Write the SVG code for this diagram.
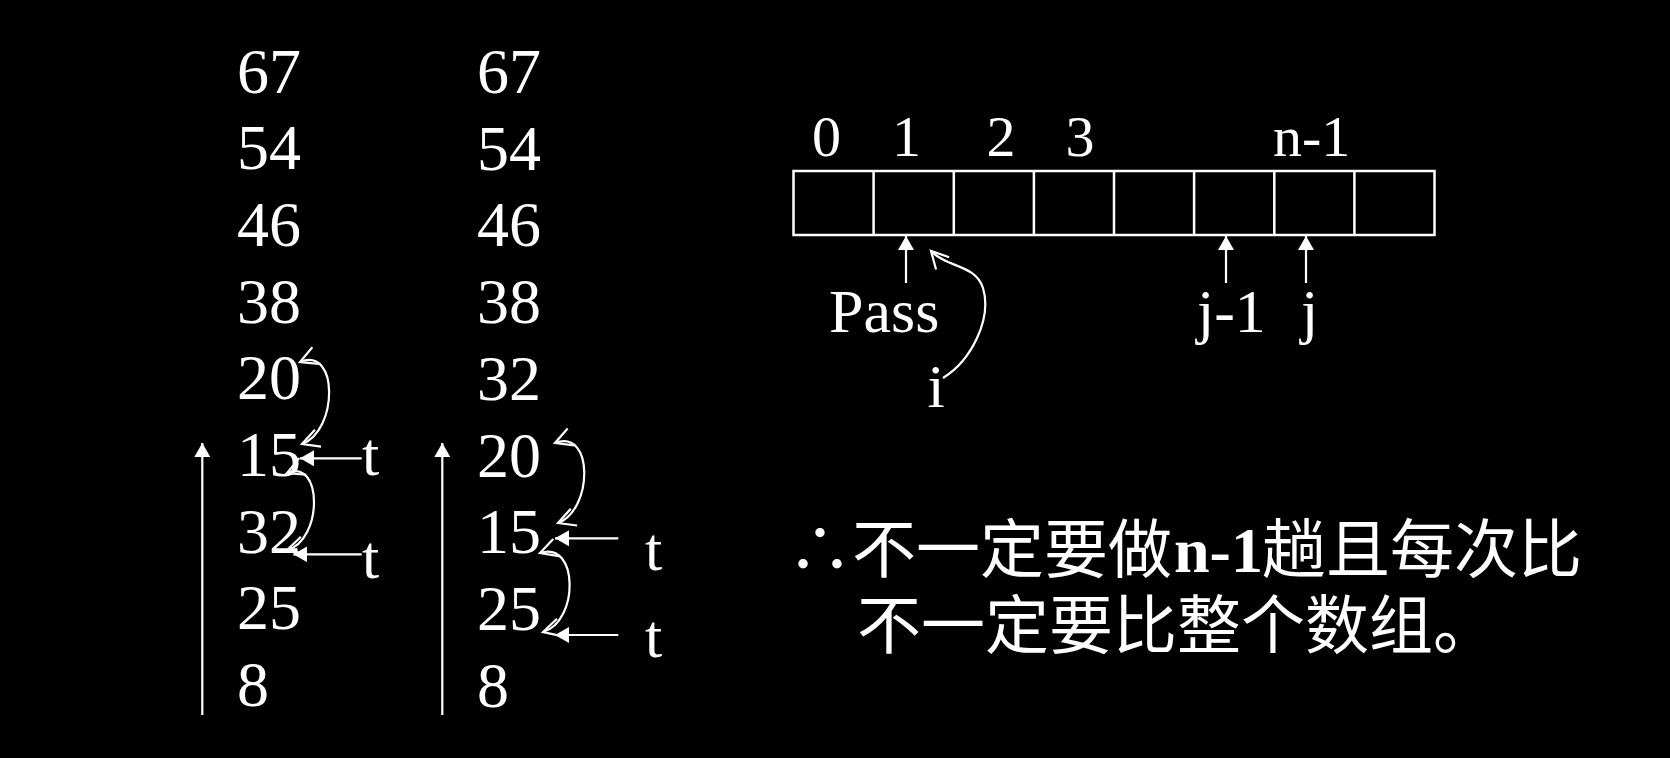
<svg xmlns="http://www.w3.org/2000/svg" width="1670" height="758" viewBox="0 0 1670 758">
<style>
.num{font-family:"Liberation Serif","Times New Roman",serif;font-size:64px;fill:#fff}
.lbl{font-family:"Liberation Serif","Times New Roman",serif;font-size:62px;fill:#fff}
.idx{font-family:"Liberation Serif","Times New Roman",serif;font-size:58px;fill:#fff}
.cjk{font-family:"Noto Sans CJK SC",sans-serif;font-size:64px;fill:#fff}
.bold{font-family:"Liberation Serif","Times New Roman",serif;font-weight:bold}
.ln{stroke:#fff;stroke-width:2.2;fill:none}
.cell{stroke:#fff;stroke-width:2.5;fill:none}
</style>
<defs>
<marker id="fill" markerUnits="userSpaceOnUse" markerWidth="15" markerHeight="16" refX="14" refY="8" orient="auto" viewBox="0 0 15 16">
<path d="M0,0 L14,8 L0,16 z" fill="#fff"/>
</marker>
<marker id="open" markerUnits="userSpaceOnUse" markerWidth="22" markerHeight="22" refX="18" refY="11" orient="auto-start-reverse" viewBox="0 0 22 22">
<path d="M1,2 L18,11 L1,20" fill="none" stroke="#fff" stroke-width="2.2"/>
</marker>
</defs>
<rect width="1670" height="758" fill="#000"/>

<g id="column1">
<text class="num" x="237" y="92.5">67</text>
<text class="num" x="237" y="169.2">54</text>
<text class="num" x="237" y="245.9">46</text>
<text class="num" x="237" y="322.6">38</text>
<text class="num" x="237" y="399.3">20</text>
<text class="num" x="237" y="476">15</text>
<text class="num" x="237" y="552.7">32</text>
<text class="num" x="237" y="629.4">25</text>
<text class="num" x="237" y="706.1">8</text>
<text class="lbl" x="362" y="475">t</text>
<text class="lbl" x="362" y="578">t</text>
</g>

<g id="column2">
<text class="num" x="477" y="93">67</text>
<text class="num" x="477" y="169.7">54</text>
<text class="num" x="477" y="246.4">46</text>
<text class="num" x="477" y="323.1">38</text>
<text class="num" x="477" y="399.8">32</text>
<text class="num" x="477" y="476.5">20</text>
<text class="num" x="477" y="553.2">15</text>
<text class="num" x="477" y="629.9">25</text>
<text class="num" x="477" y="706.6">8</text>
<text class="lbl" x="645" y="570">t</text>
<text class="lbl" x="645" y="657">t</text>
</g>

<g id="array">
<rect class="cell" x="793.5" y="171" width="641" height="64"/>
<path class="cell" d="M873.6,171V235M953.8,171V235M1033.9,171V235M1114,171V235M1194.1,171V235M1274.3,171V235M1354.4,171V235"/>
<text class="idx" x="826.5" y="155.5" text-anchor="middle">0</text>
<text class="idx" x="906.5" y="155.5" text-anchor="middle">1</text>
<text class="idx" x="1001" y="155.5" text-anchor="middle">2</text>
<text class="idx" x="1080" y="155.5" text-anchor="middle">3</text>
<text class="idx" x="1273" y="155.5">n-1</text>
</g>

<g id="labels">
<text class="lbl" x="829" y="331.7">Pass</text>
<text class="lbl" x="936" y="406.7" text-anchor="middle">i</text>
<text class="lbl" x="1197" y="331.7">j-1</text>
<text class="lbl" x="1301" y="331.7">j</text>
</g>

<g id="note">
<text class="cjk" x="788" y="572">∴不一定要做<tspan class="bold" x="1174">n-1</tspan><tspan x="1262">趟且每次比</tspan><tspan x="857" y="648">不一定要比整个数组。</tspan></text>
</g>

<g id="connectors">
<line class="ln" x1="202.3" y1="715" x2="202.3" y2="443" marker-end="url(#fill)"/>
<line class="ln" x1="442.3" y1="715" x2="442.3" y2="443" marker-end="url(#fill)"/>
<line class="ln" x1="361.7" y1="458.3" x2="300" y2="458.3" marker-end="url(#fill)"/>
<line class="ln" x1="361.7" y1="554.3" x2="293.3" y2="554.3" marker-end="url(#fill)"/>
<line class="ln" x1="618.3" y1="538.3" x2="555" y2="538.3" marker-end="url(#fill)"/>
<line class="ln" x1="618.3" y1="635" x2="555" y2="635" marker-end="url(#fill)"/>
<path class="ln" d="M300,362 C339,346 338,431 302,444" marker-start="url(#open)" marker-end="url(#open)"/>
<path class="ln" d="M287,473 C323,458 323,540 287,550" marker-start="url(#open)" marker-end="url(#open)"/>
<path class="ln" d="M555,443 C594,428 593,510 558,523" marker-start="url(#open)" marker-end="url(#open)"/>
<path class="ln" d="M540,553 C579,540 579,622 543,632" marker-start="url(#open)" marker-end="url(#open)"/>
<line class="ln" x1="906" y1="283" x2="906" y2="236" marker-end="url(#fill)"/>
<line class="ln" x1="1226" y1="283" x2="1226" y2="236" marker-end="url(#fill)"/>
<line class="ln" x1="1306" y1="283" x2="1306" y2="236" marker-end="url(#fill)"/>
<path class="ln" d="M943,378 C972,360 992,318 983,288 C975,264 947,268 931,251" marker-end="url(#open)"/>
</g>
</svg>
